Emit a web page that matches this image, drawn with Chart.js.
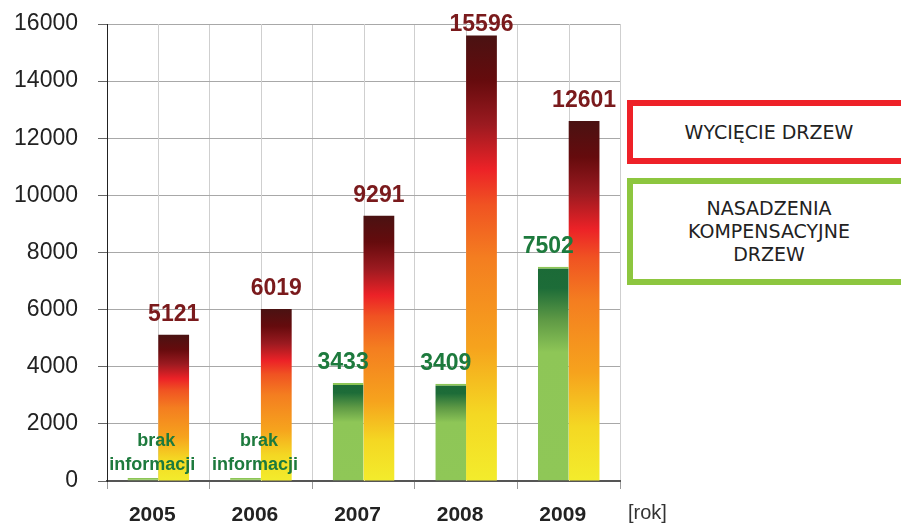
<!DOCTYPE html>
<html>
<head>
<meta charset="utf-8">
<script src="https://cdn.jsdelivr.net/npm/chart.js@4.4.1/dist/chart.umd.min.js"></script>
<style>
  body { margin: 0; background: #fff; }
  #wrap { position: relative; width: 901px; height: 525px; overflow: hidden; }
  .box { position: absolute; left: 627px; width: 290px; box-sizing: border-box; background: #fff;
         font-family: 'DejaVu Sans', sans-serif; font-size: 19px; color: #222; text-align: center;
         display: flex; align-items: center; justify-content: center; padding-right: 6px; }
  #boxCut { top: 100px; height: 64px; border: 6px solid #ee2128; }
  #boxPlant { top: 178px; height: 107px; border: 6px solid #8dc63f; line-height: 23px; }
  #rok { position: absolute; left: 628px; top: 501px; font: 20px 'Liberation Sans', sans-serif; color: #333; }
</style>
</head>
<body>
<div id="wrap">
  <canvas id="chart" width="901" height="525"></canvas>
  <div class="box" id="boxCut">WYCIĘCIE DRZEW</div>
  <div class="box" id="boxPlant">NASADZENIA<br>KOMPENSACYJNE<br>DRZEW</div>
  <div id="rok">[rok]</div>
</div>
<script>
const years = ['2005', '2006', '2007', '2008', '2009'];
const cutTrees = [5121, 6019, 9291, 15596, 12601];      // wycięcie drzew
const plantedTrees = [0, 0, 3433, 3409, 7502];          // nasadzenia (0 = brak informacji)
const noInfoLines = ['brak', 'informacji'];
const yMax = 16000;
const yLabelStep = 2000;

const redStops = [[0, '#4a1212'], [0.1, '#650b0d'], [0.2, '#9b1a20'], [0.3, '#ec2227'], [0.38, '#f05322'],
                  [0.5, '#f47e20'], [0.7, '#f6a31d'], [0.85, '#f4d823'], [1, '#f3ec2c']];
const greenStops = [[0, '#1b6a37'], [0.1, '#1d6c38'], [0.25, '#5f9a45'], [0.4, '#8ec657'], [1, '#8fc757']];

function barGradient(ctx, stops) {
  const chart = ctx.chart;
  const ys = chart.scales.y;
  if (!chart.chartArea || !ys) return stops[stops.length - 1][1];
  const top = ys.getPixelForValue(ctx.raw), bottom = ys.getPixelForValue(0);
  if (bottom - top < 6) return stops[stops.length - 1][1];
  const g = chart.ctx.createLinearGradient(0, top, 0, bottom);
  stops.forEach(s => g.addColorStop(s[0], s[1]));
  return g;
}

// extra vertical grid lines through the category centres
const centreLines = {
  id: 'centreLines',
  beforeDatasetsDraw(chart) {
    const { ctx, chartArea, scales } = chart;
    ctx.save();
    ctx.strokeStyle = '#cfcfcf';
    ctx.lineWidth = 1;
    years.forEach((y, i) => {
      const x = Math.round(scales.x.getPixelForValue(i)) + 0.5;
      ctx.beginPath(); ctx.moveTo(x, chartArea.top); ctx.lineTo(x, chartArea.bottom); ctx.stroke();
    });
    ctx.restore();
  }
};

const valueLabels = {
  id: 'valueLabels',
  afterDatasetsDraw(chart) {
    const { ctx, chartArea, scales } = chart;
    ctx.save();
    ctx.textAlign = 'center';
    ctx.textBaseline = 'alphabetic';
    chart.getDatasetMeta(1).data.forEach((bar, i) => {
      ctx.font = 'bold 23px "Liberation Sans"';
      ctx.fillStyle = '#7a1a1c';
      ctx.fillText(cutTrees[i], bar.x, Math.max(bar.y - 14, chartArea.top + 7));
    });
    chart.getDatasetMeta(0).data.forEach((bar, i) => {
      ctx.fillStyle = '#1d7a3d';
      if (plantedTrees[i]) {
        ctx.font = 'bold 23px "Liberation Sans"';
        ctx.fillText(plantedTrees[i], bar.x - 5, bar.y - 14);
      } else {
        ctx.font = 'bold 18px "Liberation Sans"';
        const cx = scales.x.getPixelForValue(i) - 6;
        ctx.fillText(noInfoLines[0], cx + 4, chartArea.bottom - 35);
        ctx.fillText(noInfoLines[1], cx, chartArea.bottom - 11);
      }
    });
    ctx.restore();
  }
};

new Chart(document.getElementById('chart'), {
  type: 'bar',
  data: {
    labels: years,
    datasets: [
      { label: 'NASADZENIA KOMPENSACYJNE DRZEW', data: plantedTrees, minBarLength: 3,
        backgroundColor: c => barGradient(c, greenStops),
        borderColor: '#8dc656', borderWidth: { top: 2, left: 0, right: 0, bottom: 0 }, borderSkipped: 'bottom' },
      { label: 'WYCIĘCIE DRZEW', data: cutTrees,
        backgroundColor: c => barGradient(c, redStops), borderWidth: 0 }
    ]
  },
  options: {
    responsive: false,
    animation: false,
    categoryPercentage: 0.6,
    barPercentage: 1.0,
    layout: { padding: { top: 24, right: 281, left: 0, bottom: 0 } },
    plugins: { legend: { display: false }, tooltip: { enabled: false } },
    scales: {
      x: {
        afterFit: s => { s.height = 44; },
        grid: { offset: true, color: '#cfcfcf', tickColor: '#9a9a9a', tickLength: 8 },
        border: { color: '#555', width: 2 },
        ticks: { labelOffset: -6, padding: 14, color: '#222', font: { family: 'Liberation Sans', size: 21, weight: 'bold' } }
      },
      y: {
        min: 0, max: yMax,
        afterFit: s => { s.width = 107; s.paddingTop = 0; },
        grid: {
          color: c => (c.tick && c.tick.value % yLabelStep === 0) ? '#a8a8a8' : 'rgba(0,0,0,0)',
          tickColor: '#666', tickLength: 9
        },
        border: { color: '#222', width: 1 },
        ticks: {
          stepSize: 1000, padding: 20, color: '#222',
          font: { family: 'Liberation Sans', size: 23 },
          callback: v => v % yLabelStep === 0 ? v : ''
        }
      }
    }
  },
  plugins: [centreLines, valueLabels]
});
</script>
</body>
</html>
